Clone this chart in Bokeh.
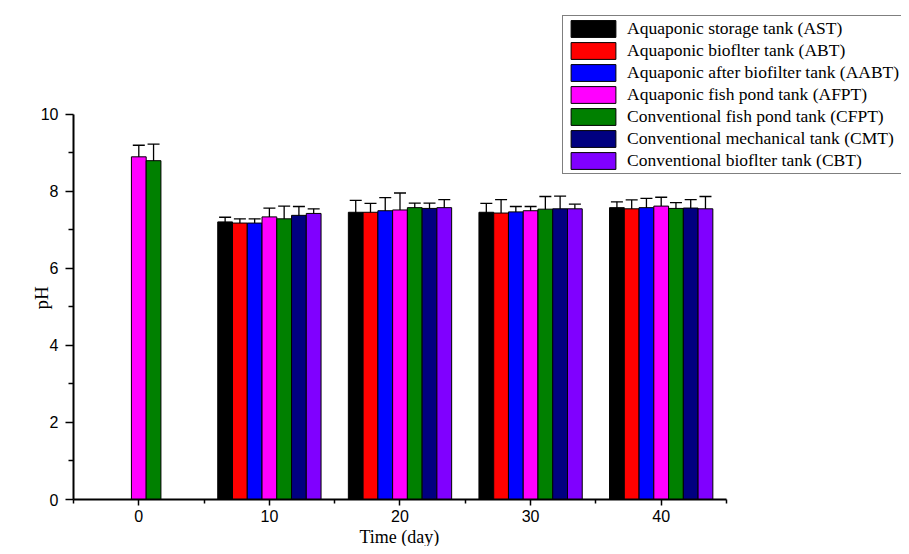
from bokeh.plotting import figure
from bokeh.models import (ColumnDataSource, Whisker, TeeHead, FixedTicker,
                          Legend, LegendItem, Range1d, Title)
from bokeh.embed import file_html
from bokeh.resources import INLINE

days = [0, 10, 20, 30, 40]
series_names = [
    "Aquaponic storage tank (AST)",
    "Aquaponic bioflter tank (ABT)",
    "Aquaponic after biofilter tank (AABT)",
    "Aquaponic fish pond tank (AFPT)",
    "Conventional fish pond tank (CFPT)",
    "Conventional mechanical tank (CMT)",
    "Conventional bioflter tank (CBT)",
]
colors = ["#000000", "#FF0000", "#0000FF", "#FF00FF", "#008000", "#000080", "#8000FF"]

ast_mean = [None, 7.21, 7.46, 7.46, 7.58]
ast_err = [None, 0.12, 0.31, 0.23, 0.15]
abt_mean = [None, 7.18, 7.46, 7.44, 7.55]
abt_err = [None, 0.11, 0.23, 0.35, 0.23]
aabt_mean = [None, 7.18, 7.50, 7.47, 7.58]
aabt_err = [None, 0.11, 0.34, 0.14, 0.24]
afpt_mean = [8.90, 7.34, 7.52, 7.50, 7.62]
afpt_err = [0.30, 0.23, 0.44, 0.11, 0.23]
cfpt_mean = [8.80, 7.29, 7.58, 7.54, 7.56]
cfpt_err = [0.43, 0.33, 0.12, 0.33, 0.15]
cmt_mean = [None, 7.38, 7.56, 7.55, 7.57]
cmt_err = [None, 0.23, 0.14, 0.33, 0.22]
cbt_mean = [None, 7.43, 7.58, 7.55, 7.55]
cbt_err = [None, 0.12, 0.21, 0.12, 0.32]

x_ticks = [0, 10, 20, 30, 40]
x_minor = [-5, 5, 15, 25, 35, 45]
y_ticks = [0, 2, 4, 6, 8, 10]
y_minor = [1, 3, 5, 7, 9]

means = [ast_mean, abt_mean, aabt_mean, afpt_mean, cfpt_mean, cmt_mean, cbt_mean]
errs = [ast_err, abt_err, aabt_err, afpt_err, cfpt_err, cmt_err, cbt_err]

bar_w = 1.13

# plotting frame extends right/up so the legend (outside the axes area) is not clipped;
# axis lines are limited with bounds
p = figure(frame_width=828, frame_height=499,
           x_range=Range1d(-5, 58.4), y_range=Range1d(0, 12.96),
           output_backend="svg", toolbar_location=None,
           min_border_left=73, min_border_right=0, min_border_top=0, min_border_bottom=0)
p.outline_line_color = None
p.xgrid.visible = False
p.ygrid.visible = False

items = []
for i, (name, col, m, e) in enumerate(zip(series_names, colors, means, errs)):
    xs, tops, ups, lows = [], [], [], []
    for d, mv, ev in zip(days, m, e):
        if mv is None:
            continue
        xs.append(d + (i - 3) * bar_w)
        tops.append(mv)
        ups.append(mv + ev)
        lows.append(mv - ev)
    src = ColumnDataSource(dict(x=xs, top=tops, upper=ups, lower=lows))
    r = p.vbar(x="x", top="top", width=bar_w, bottom=0, source=src,
               fill_color=col, line_color="black", line_width=1)
    w = Whisker(base="x", upper="upper", lower="lower", source=src,
                line_color="black", line_width=1.3,
                upper_head=TeeHead(size=12, line_color="black", line_width=1.3),
                lower_head=TeeHead(size=12, line_color="black", line_width=1.3))
    p.add_layout(w)
    items.append(LegendItem(label=name, renderers=[r]))

legend = Legend(items=items, location=(489, 325),
                glyph_width=56, glyph_height=21, label_height=21, spacing=1,
                padding=2, margin=0, label_standoff=6,
                label_text_font="Liberation Serif", label_text_font_size="17.5px",
                label_text_color="black",
                border_line_color="black", border_line_width=1.5,
                background_fill_color="white", background_fill_alpha=1)
p.add_layout(legend)

xa = p.xaxis[0]
xa.ticker = FixedTicker(ticks=x_ticks, minor_ticks=x_minor)
xa.bounds = (x_minor[0], x_minor[-1])
ya = p.yaxis[0]
ya.ticker = FixedTicker(ticks=y_ticks, minor_ticks=y_minor)
ya.bounds = (y_ticks[0], y_ticks[-1])

for ax in (xa, ya):
    ax.axis_line_width = 2
    ax.axis_line_color = "black"
    ax.major_tick_line_width = 1.5
    ax.minor_tick_line_width = 1.5
    ax.major_tick_line_color = "black"
    ax.minor_tick_line_color = "black"
    ax.major_tick_in = 0
    ax.minor_tick_in = 0
    ax.major_label_text_font = "Liberation Sans"
    ax.major_label_text_font_size = "16px"
    ax.major_label_text_color = "black"

xa.major_tick_out = 6
xa.minor_tick_out = 4
xa.major_label_standoff = 4
ya.major_tick_out = 8
ya.minor_tick_out = 5
ya.major_label_standoff = 7

# axis titles centred on the axis extent (not on the enlarged frame)
xtitle = Title(text="Time (day)", align="left", offset=286, standoff=0,
               text_font="Liberation Serif", text_font_size="18px",
               text_font_style="normal", text_color="black")
p.add_layout(xtitle, "below")
ytitle = Title(text="pH", align="left", offset=190, standoff=-28,
               vertical_align="bottom",
               text_font="Liberation Serif", text_font_size="19px",
               text_font_style="normal", text_color="black")
p.add_layout(ytitle, "left")

open("out.html", "w").write(file_html(p, INLINE))
